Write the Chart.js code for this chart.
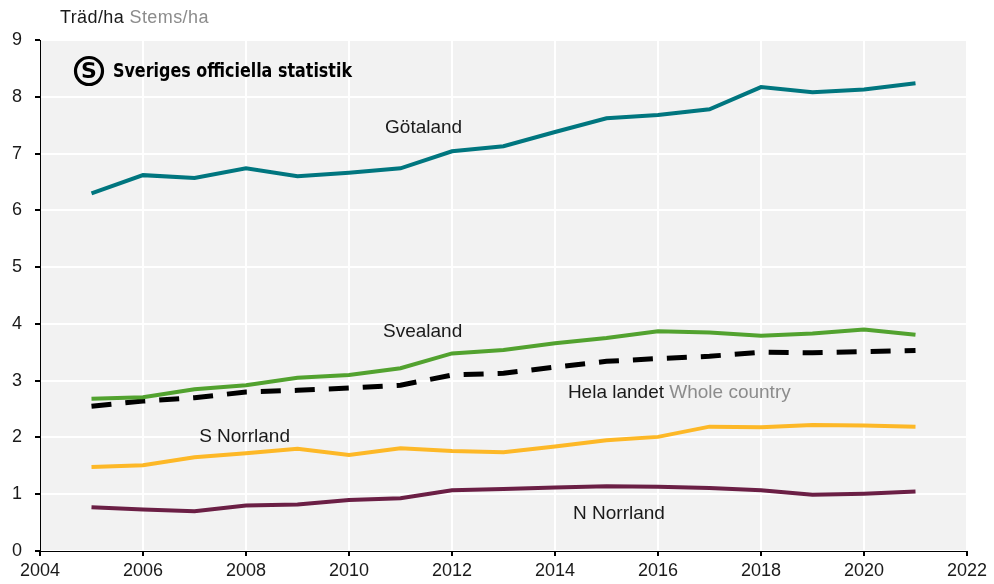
<!DOCTYPE html>
<html>
<head>
<meta charset="utf-8">
<script src="https://cdn.jsdelivr.net/npm/chart.js@4"></script>
<style>
  body { margin: 0; background: #fff; }
  #wrap { width: 994px; height: 584px; }
</style>
</head>
<body>
<div id="wrap"><canvas id="chart" width="994" height="584"></canvas></div>
<script>
// --- DATA ---
const years = [2005, 2006, 2007, 2008, 2009, 2010, 2011, 2012, 2013, 2014, 2015, 2016, 2017, 2018, 2019, 2020, 2021];
const gotaland   = [6.30, 6.62, 6.57, 6.74, 6.60, 6.66, 6.74, 7.04, 7.13, 7.38, 7.62, 7.68, 7.78, 8.17, 8.08, 8.13, 8.24];
const svealand   = [2.68, 2.71, 2.85, 2.92, 3.05, 3.10, 3.22, 3.48, 3.54, 3.66, 3.75, 3.87, 3.85, 3.79, 3.83, 3.90, 3.81];
const helaLandet = [2.55, 2.64, 2.70, 2.80, 2.83, 2.87, 2.92, 3.10, 3.13, 3.24, 3.34, 3.39, 3.43, 3.50, 3.49, 3.51, 3.53];
const sNorrland  = [1.48, 1.51, 1.65, 1.72, 1.80, 1.69, 1.81, 1.76, 1.74, 1.84, 1.95, 2.01, 2.19, 2.18, 2.22, 2.21, 2.19];
const nNorrland  = [0.77, 0.73, 0.70, 0.80, 0.82, 0.90, 0.93, 1.07, 1.09, 1.12, 1.14, 1.13, 1.11, 1.07, 0.99, 1.01, 1.05];

const FONT = "'Liberation Sans', Arial, sans-serif";

const toPoints = vals => vals.map((v, i) => ({ x: years[i], y: v }));

const series = (label, vals, color, extra) => ({
    label,
    data: toPoints(vals),
    borderColor: color,
    borderWidth: 4,
    pointRadius: 0,
    tension: 0,
    fill: false,
    ...extra
});

// Series labels placed next to the lines (data coordinates)
const lineLabels = [
    { parts: [['Götaland', '#1a1a1a']], x: 2010.70, y: 7.45 },
    { parts: [['Svealand', '#1a1a1a']], x: 2010.66, y: 3.87 },
    { parts: [['Hela landet ', '#1a1a1a'], ['Whole country', '#8c8c8c']], x: 2014.25, y: 2.78 },
    { parts: [['S Norrland', '#1a1a1a']], x: 2007.09, y: 2.01 },
    { parts: [['N Norrland', '#1a1a1a']], x: 2014.35, y: 0.65 }
];

// Grey plot area behind the grid
const plotBg = {
    id: 'plotBg',
    beforeDraw(chart) {
        const { ctx, chartArea: a } = chart;
        ctx.save();
        ctx.fillStyle = '#f2f2f2';
        ctx.fillRect(a.left, a.top, a.right - a.left, a.bottom - a.top);
        ctx.restore();
    }
};

// Unit heading, logo and line labels
const decorations = {
    id: 'decorations',
    afterDraw(chart) {
        const { ctx, scales } = chart;
        ctx.save();

        // unit heading
        ctx.textBaseline = 'middle';
        ctx.textAlign = 'left';
        ctx.font = '18px ' + FONT;
        ctx.letterSpacing = '0.4px';
        ctx.fillStyle = '#1a1a1a';
        ctx.fillText('Träd/ha', 60, 18);
        let w = ctx.measureText('Träd/ha ').width;
        ctx.fillStyle = '#8c8c8c';
        ctx.fillText('Stems/ha', 60 + w, 18);
        ctx.letterSpacing = '0px';

        // logo
        const cx = 89, cy = 71;
        ctx.strokeStyle = '#000';
        ctx.lineWidth = 3.2;
        ctx.beginPath();
        ctx.arc(cx, cy, 13.5, 0, Math.PI * 2);
        ctx.stroke();
        ctx.fillStyle = '#000';
        ctx.font = "bold 22px 'DejaVu Sans', sans-serif";
        ctx.textAlign = 'center';
        ctx.fillText('S', cx, cy + 1);
        ctx.textAlign = 'left';
        ctx.font = "bold 20px 'DejaVu Sans Condensed', 'DejaVu Sans', sans-serif";
        ctx.fillText('Sveriges officiella statistik', 113, 72, 239);

        // line labels
        ctx.font = '19px ' + FONT;
        lineLabels.forEach(l => {
            let x = scales.x.getPixelForValue(l.x);
            const y = scales.y.getPixelForValue(l.y);
            l.parts.forEach(([txt, col]) => {
                ctx.fillStyle = col;
                ctx.fillText(txt, x, y);
                x += ctx.measureText(txt).width;
            });
        });
        ctx.restore();
    }
};

new Chart(document.getElementById('chart').getContext('2d'), {
    type: 'line',
    data: {
        datasets: [
            series('Götaland', gotaland, '#00767f'),
            series('Svealand', svealand, '#52a22f'),
            series('Hela landet', helaLandet, '#000000', { borderWidth: 5, borderDash: [20, 14] }),
            series('S Norrland', sNorrland, '#fdb827'),
            series('N Norrland', nNorrland, '#6b1f45')
        ]
    },
    options: {
        responsive: false,
        animation: false,
        layout: { padding: { top: 40, right: 27, left: 0, bottom: 0 } },
        plugins: { legend: { display: false }, tooltip: { enabled: false } },
        scales: {
            x: {
                type: 'linear',
                min: 2004,
                max: 2022,
                afterFit: s => { s.height = 33; },
                ticks: {
                    stepSize: 2,
                    padding: 4,
                    color: '#1a1a1a',
                    font: { family: FONT, size: 18 },
                    callback: v => String(v),
                    maxRotation: 0
                },
                grid: { color: '#ffffff', lineWidth: 2, tickColor: '#000', tickLength: 5 },
                border: { color: '#000', width: 1 }
            },
            y: {
                min: 0,
                max: 9,
                afterFit: s => { s.width = 40; },
                ticks: {
                    stepSize: 1,
                    padding: 13,
                    color: '#1a1a1a',
                    font: { family: FONT, size: 18 }
                },
                grid: { color: '#ffffff', lineWidth: 2, tickColor: '#000', tickLength: 5 },
                border: { color: '#000', width: 1 }
            }
        }
    },
    plugins: [plotBg, decorations]
});
</script>
</body>
</html>
